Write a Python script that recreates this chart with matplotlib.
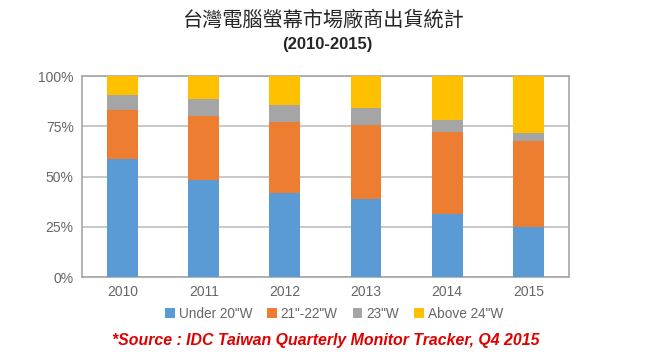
import matplotlib
matplotlib.use("Agg")
import matplotlib.pyplot as plt
import numpy as np

years = ["2010", "2011", "2012", "2013", "2014", "2015"]
series_names = ['Under 20"W', '21"-22"W', '23"W', 'Above 24"W']
under20 = [58.6, 48.3, 41.8, 38.7, 31.2, 24.9]
w21_22 = [24.5, 32.0, 35.2, 36.9, 40.9, 42.9]
w23 = [7.4, 8.3, 8.6, 8.5, 5.9, 3.8]
above24 = [9.5, 11.4, 14.4, 15.9, 22.0, 28.4]
yticks = [0, 25, 50, 75, 100]
ytick_labels = ["0%", "25%", "50%", "75%", "100%"]
colors = ["#5B9BD5", "#ED7D31", "#A5A5A5", "#FFC000"]

fig = plt.figure(figsize=(6.65, 3.63), dpi=100)
ax = fig.add_axes([0.1233, 0.2369, 0.7323, 0.5537])

x = np.arange(len(years))
bottom = np.zeros(len(years))
for vals, name, c in zip([under20, w21_22, w23, above24], series_names, colors):
    ax.bar(x, vals, 0.38, bottom=bottom, color=c, label=name, zorder=3)
    bottom += np.array(vals)

ax.set_xlim(-0.5, len(years) - 0.5)
ax.set_ylim(0, 100)
ax.set_yticks(yticks)
ax.set_yticklabels(ytick_labels)
ax.set_xticks(x)
ax.set_xticklabels(years)
ax.yaxis.grid(True, color="#BFBFBF", linewidth=1.2, zorder=0)
for s in ax.spines.values():
    s.set_color("#A6A6A6")
    s.set_linewidth(1.2)
ax.tick_params(length=0, labelsize=10, colors="#666666", pad=6)
for lab in ax.get_xticklabels() + ax.get_yticklabels():
    lab.set_family(["Liberation Sans", "DejaVu Sans"])

fig.text(324 / 665, 1 - 20 / 363, "台灣電腦螢幕市場廠商出貨統計", ha="center", va="center",
         fontsize=14.5, family=["Noto Sans CJK TC", "DejaVu Sans"], color="#262626")
fig.text(327 / 665, 1 - 45 / 363, "(2010-2015)", ha="center", va="center",
         fontsize=12, fontweight="bold", family=["Liberation Sans", "DejaVu Sans"], color="#262626")

leg = fig.legend(loc="center", bbox_to_anchor=(334 / 665, 1 - 314 / 363), ncol=4, frameon=False,
                 handlelength=0.7, handleheight=0.7, handletextpad=0.3, columnspacing=1.1,
                 prop={"family": ["Liberation Sans", "DejaVu Sans"], "size": 9.8})
for t in leg.get_texts():
    t.set_color("#666666")

fig.text(112 / 665, 1 - 340 / 363, "*Source : IDC Taiwan Quarterly Monitor Tracker, Q4 2015",
         ha="left", va="center", fontsize=11.4, fontweight="bold", fontstyle="italic",
         family=["Liberation Sans", "DejaVu Sans"], color="#E00000")

fig.savefig("out.png", dpi=100)
